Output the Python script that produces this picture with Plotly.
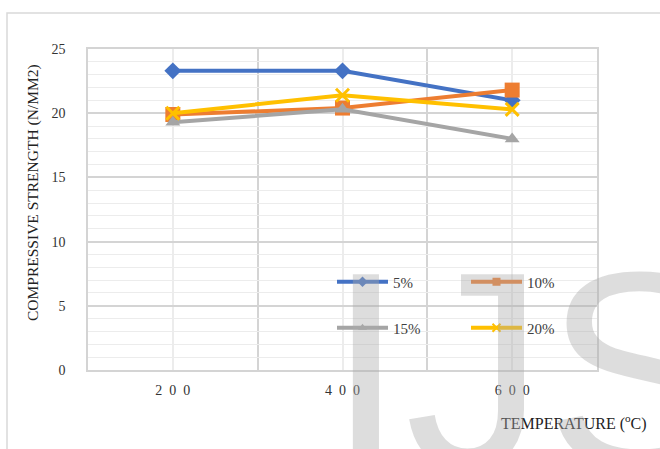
import plotly.graph_objects as go

temperatures = ["200", "400", "600"]
tick_labels = ["2\u20020\u20020", "4\u20020\u20020", "6\u20020\u20020"]
series_names = ["5%", "10%", "15%", "20%"]
s5 = [23.3, 23.3, 21.0]
s10 = [19.9, 20.4, 21.8]
s15 = [19.3, 20.3, 18.0]
s20 = [20.0, 21.4, 20.3]

colors = ["#4472C4", "#ED7D31", "#A5A5A5", "#FFC000"]
symbols = ["diamond", "square", "triangle-up", "x-thin-open"]
sizes = [13, 15, 13, 13]
values = [s5, s10, s15, s20]
legends = ["legend", "legend", "legend2", "legend2"]

x = list(range(len(temperatures)))
FONT = "Liberation Serif"

fig = go.Figure()
for name, vals, c, sym, sz, lg in zip(series_names, values, colors, symbols, sizes, legends):
    marker = dict(symbol=sym, size=sz, color=c)
    if sym == "x-thin-open":
        marker["line"] = dict(color=c, width=3)
    fig.add_trace(go.Scatter(
        x=x, y=vals, name=name, mode="lines+markers", showlegend=False,
        line=dict(color=c, width=4), marker=marker,
    ))
# legend entries with small markers (as in the reference legend)
for name, c, sym, lg in zip(series_names, colors, symbols, legends):
    marker = dict(symbol=sym, size=8, color=c)
    if sym == "x-thin-open":
        marker["line"] = dict(color=c, width=2)
    fig.add_trace(go.Scatter(
        x=[None], y=[None], name=name, mode="lines+markers", legend=lg,
        line=dict(color=c, width=4), marker=marker,
    ))

grid_major = "#d4d4d4"
grid_minor = "#ececec"

leg_common = dict(orientation="h", xanchor="left", yanchor="middle",
                  entrywidth=68, entrywidthmode="pixels", itemwidth=51,
                  bgcolor="rgba(0,0,0,0)", font=dict(family=FONT, size=15, color="#404040"))

fig.update_layout(
    width=660, height=449,
    margin=dict(l=88, r=63, t=49, b=79),
    paper_bgcolor="white", plot_bgcolor="white",
    font=dict(family=FONT, size=13, color="#404040"),
    showlegend=True,
    legend=dict(x=(332 - 88) / 509, y=(370 - 282) / 321, **leg_common),
    legend2=dict(x=(332 - 88) / 509, y=(370 - 328) / 321, **leg_common),
    xaxis=dict(
        range=[-0.5, len(temperatures) - 0.5], tickvals=x, ticktext=tick_labels,
        showgrid=True, gridcolor=grid_minor, gridwidth=1.5,
        minor=dict(tick0=0.5, dtick=1, showgrid=True, gridcolor=grid_major, gridwidth=1.5),
        showline=True, linecolor=grid_major, linewidth=1.5, mirror=True,
        zeroline=False, ticks="", ticklabelstandoff=6,
        tickfont=dict(family=FONT, size=14, color="#333333"),
    ),
    yaxis=dict(
        range=[0, 25], dtick=5, tick0=0,
        showgrid=True, gridcolor=grid_major, gridwidth=1.5,
        minor=dict(dtick=1, showgrid=True, gridcolor=grid_minor, gridwidth=1),
        showline=True, linecolor=grid_major, linewidth=1.5, mirror=True,
        zeroline=False, ticks="", ticklabelstandoff=18,
        tickfont=dict(family=FONT, size=14, color="#333333"),
    ),
    annotations=[
        dict(text="COMPRESSIVE STRENGTH (N/MM2)", textangle=-90, xref="paper", yref="paper",
             x=(33 - 88) / 509, y=(370 - 193) / 321, xanchor="center", yanchor="middle",
             showarrow=False, font=dict(family=FONT, size=15.5, color="#222222")),
        dict(text="TEMPERATURE (<sup>o</sup>C)", xref="paper", yref="paper",
             x=(649 - 88) / 509, y=(370 - 422) / 321, xanchor="right", yanchor="middle",
             showarrow=False, font=dict(family=FONT, size=16, color="#222222")),
        dict(text="IJS", xref="paper", yref="paper",
             x=(325 - 88) / 509, y=(370 - 212) / 321, xanchor="left", yanchor="top",
             showarrow=False,
             font=dict(family="Liberation Sans", size=280, color="rgba(170,170,170,0.4)")),
    ],
    shapes=[
        dict(type="rect", xref="paper", yref="paper", layer="below",
             x0=(7 - 88) / 509, x1=(680 - 88) / 509, y0=(370 - 470) / 321, y1=(370 - 13) / 321,
             line=dict(color="#d9d9d9", width=1.5), fillcolor="rgba(0,0,0,0)"),
    ],
)

fig.write_html("out.html")
